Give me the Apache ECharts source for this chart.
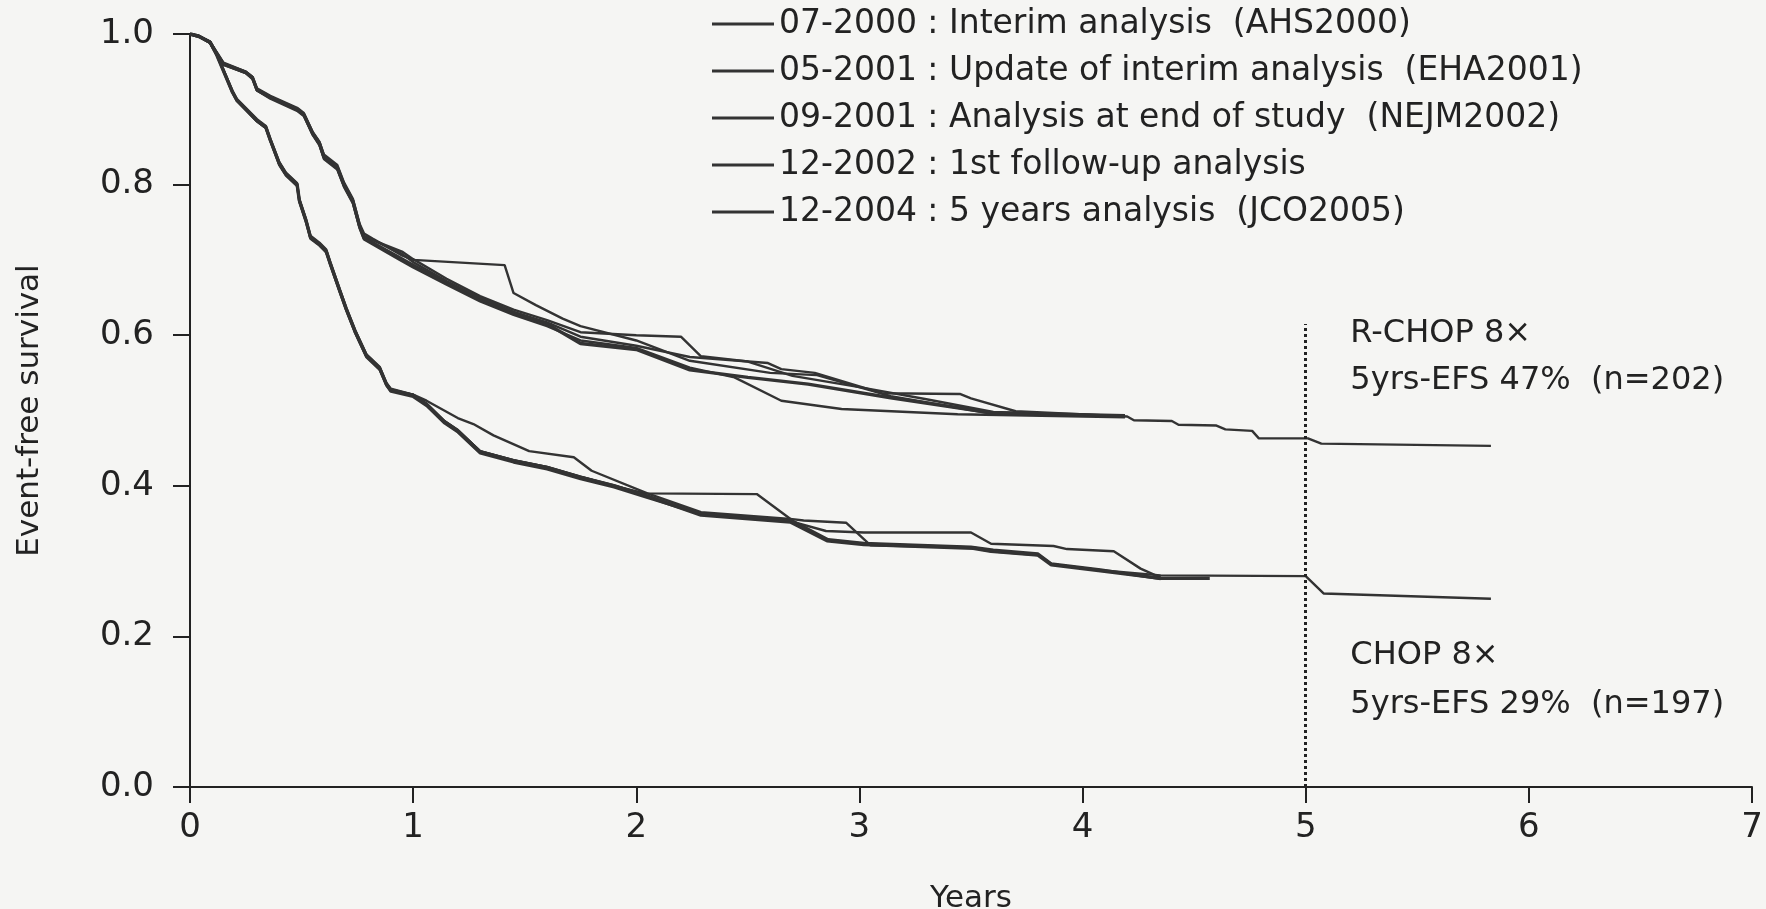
<!DOCTYPE html>
<html>
<head>
<meta charset="utf-8">
<title>Event-free survival</title>
<script src="https://cdn.jsdelivr.net/npm/echarts@6/dist/echarts.min.js"></script>
<style>
  html, body { margin: 0; padding: 0; background: #f5f5f3; }
  #main { width: 1766px; height: 909px; }
</style>
</head>
<body>
<div id="main"></div>
<script>
// legend names (one per analysis)
const analyses = [
  '07-2000 : Interim analysis  (AHS2000)',
  '05-2001 : Update of interim analysis  (EHA2001)',
  '09-2001 : Analysis at end of study  (NEJM2002)',
  '12-2002 : 1st follow-up analysis',
  '12-2004 : 5 years analysis  (JCO2005)'
];

const xTicks = [0, 1, 2, 3, 4, 5, 6, 7];
const yTicks = [0, 0.2, 0.4, 0.6, 0.8, 1.0];

// R-CHOP arm, [years, event-free survival]
const rchop0700 = [[0,1.0],[0.04,0.997],[0.09,0.989],[0.12,0.976],[0.15,0.962],[0.25,0.95],[0.28,0.943],[0.30,0.928],[0.36,0.918],[0.48,0.902],[0.51,0.895],[0.55,0.87],[0.58,0.857],[0.60,0.84],[0.66,0.826],[0.69,0.803],[0.73,0.781],[0.76,0.748],[0.78,0.735],[0.82,0.728],[0.95,0.706],[1.0,0.70],[1.41,0.693],[1.45,0.656],[1.55,0.64],[1.67,0.622],[1.75,0.612],[2.0,0.593],[2.24,0.566],[2.6,0.55],[2.81,0.547],[3.14,0.519],[3.59,0.496],[4.19,0.493]];
const rchop0501 = [[0,1.0],[0.04,0.996],[0.09,0.988],[0.12,0.973],[0.15,0.959],[0.25,0.948],[0.28,0.941],[0.30,0.925],[0.36,0.915],[0.48,0.899],[0.51,0.892],[0.55,0.866],[0.58,0.853],[0.60,0.835],[0.66,0.821],[0.69,0.798],[0.73,0.776],[0.76,0.743],[0.78,0.731],[0.95,0.711],[1.0,0.701],[1.15,0.675],[1.3,0.652],[1.45,0.634],[1.6,0.62],[1.75,0.604],[2.0,0.60],[2.2,0.598],[2.29,0.572],[2.5,0.565],[2.7,0.546],[3.0,0.531],[3.3,0.515],[3.6,0.498],[4.19,0.492]];
const rchop0901 = [[0,1.0],[0.04,0.997],[0.09,0.988],[0.12,0.974],[0.15,0.96],[0.25,0.948],[0.28,0.94],[0.30,0.925],[0.36,0.914],[0.48,0.898],[0.51,0.891],[0.55,0.866],[0.58,0.852],[0.60,0.834],[0.66,0.82],[0.69,0.797],[0.73,0.775],[0.76,0.742],[0.78,0.727],[0.94,0.70],[1.0,0.69],[1.15,0.667],[1.3,0.645],[1.45,0.627],[1.6,0.612],[1.75,0.593],[2.0,0.583],[2.24,0.557],[2.44,0.544],[2.65,0.513],[2.92,0.502],[3.44,0.495],[4.19,0.491]];
const rchop1202 = [[0,1.0],[0.04,0.997],[0.09,0.989],[0.12,0.974],[0.15,0.96],[0.25,0.949],[0.28,0.942],[0.30,0.926],[0.36,0.916],[0.48,0.90],[0.51,0.893],[0.55,0.868],[0.58,0.855],[0.60,0.837],[0.66,0.823],[0.69,0.80],[0.73,0.778],[0.76,0.745],[0.78,0.729],[0.94,0.703],[1.0,0.693],[1.15,0.67],[1.3,0.648],[1.45,0.63],[1.6,0.615],[1.75,0.589],[2.0,0.581],[2.24,0.554],[2.5,0.544],[2.77,0.535],[3.14,0.517],[3.59,0.497],[4.19,0.493]];
const rchop1204 = [[0,1.0],[0.04,0.997],[0.09,0.99],[0.12,0.975],[0.15,0.961],[0.25,0.95],[0.28,0.943],[0.30,0.927],[0.36,0.917],[0.48,0.901],[0.51,0.894],[0.55,0.869],[0.58,0.856],[0.60,0.838],[0.66,0.824],[0.69,0.801],[0.73,0.779],[0.76,0.746],[0.78,0.732],[0.95,0.708],[1.0,0.697],[1.15,0.672],[1.3,0.65],[1.45,0.631],[1.6,0.617],[1.75,0.598],[2.0,0.586],[2.24,0.571],[2.59,0.563],[2.65,0.555],[2.8,0.55],[3.1,0.523],[3.45,0.522],[3.5,0.516],[3.7,0.499],[4.2,0.492],[4.23,0.487],[4.4,0.486],[4.43,0.481],[4.6,0.48],[4.64,0.475],[4.76,0.473],[4.79,0.463],[5.01,0.463],[5.07,0.456],[5.83,0.453]];

// CHOP arm
const chop0700 = [[0,1.0],[0.04,0.997],[0.09,0.989],[0.12,0.973],[0.19,0.925],[0.21,0.914],[0.30,0.887],[0.34,0.878],[0.36,0.861],[0.40,0.83],[0.43,0.816],[0.48,0.802],[0.49,0.781],[0.52,0.754],[0.54,0.732],[0.58,0.723],[0.61,0.714],[0.63,0.696],[0.67,0.662],[0.70,0.637],[0.74,0.607],[0.79,0.575],[0.85,0.558],[0.88,0.537],[0.90,0.529],[1.0,0.521],[1.06,0.509],[1.14,0.486],[1.2,0.474],[1.3,0.446],[1.45,0.434],[1.6,0.425],[1.75,0.412],[1.9,0.40],[2.04,0.39],[2.54,0.389],[2.70,0.354],[2.86,0.329],[3.02,0.324],[3.5,0.319],[3.6,0.315],[3.8,0.31],[3.86,0.297],[4.08,0.289],[4.35,0.277]];
const chop0501 = [[0,1.0],[0.04,0.997],[0.09,0.988],[0.12,0.972],[0.19,0.923],[0.21,0.912],[0.30,0.884],[0.34,0.875],[0.36,0.858],[0.40,0.827],[0.43,0.813],[0.48,0.799],[0.49,0.778],[0.52,0.751],[0.54,0.729],[0.58,0.72],[0.61,0.711],[0.63,0.693],[0.67,0.659],[0.70,0.634],[0.74,0.604],[0.79,0.572],[0.85,0.555],[0.88,0.534],[0.90,0.526],[1.0,0.521],[1.06,0.513],[1.2,0.49],[1.27,0.482],[1.36,0.467],[1.52,0.446],[1.72,0.438],[1.8,0.42],[2.05,0.39],[2.29,0.365],[2.69,0.356],[2.75,0.354],[2.94,0.351],[3.05,0.321],[3.5,0.318],[3.59,0.313],[3.8,0.308],[3.86,0.296],[4.08,0.288],[4.35,0.276]];
const chop0901 = [[0,1.0],[0.04,0.997],[0.09,0.989],[0.12,0.972],[0.19,0.922],[0.21,0.911],[0.30,0.884],[0.34,0.875],[0.36,0.858],[0.40,0.826],[0.43,0.812],[0.48,0.798],[0.49,0.777],[0.52,0.75],[0.54,0.728],[0.58,0.719],[0.61,0.71],[0.63,0.692],[0.67,0.658],[0.70,0.633],[0.74,0.603],[0.79,0.571],[0.85,0.554],[0.88,0.533],[0.90,0.525],[1.0,0.518],[1.06,0.506],[1.14,0.483],[1.2,0.471],[1.3,0.443],[1.45,0.431],[1.6,0.422],[1.75,0.409],[1.9,0.398],[2.05,0.384],[2.29,0.362],[2.69,0.353],[2.85,0.34],[3.02,0.338],[3.5,0.338],[3.59,0.323],[3.87,0.32],[3.93,0.316],[4.14,0.313],[4.26,0.29],[4.35,0.278]];
const chop1202 = [[0,1.0],[0.04,0.997],[0.09,0.989],[0.12,0.972],[0.19,0.923],[0.21,0.912],[0.30,0.885],[0.34,0.876],[0.36,0.859],[0.40,0.828],[0.43,0.814],[0.48,0.80],[0.49,0.779],[0.52,0.752],[0.54,0.73],[0.58,0.721],[0.61,0.712],[0.63,0.694],[0.67,0.66],[0.70,0.635],[0.74,0.605],[0.79,0.573],[0.85,0.556],[0.88,0.535],[0.90,0.527],[1.0,0.52],[1.06,0.508],[1.14,0.485],[1.2,0.473],[1.3,0.445],[1.45,0.433],[1.6,0.424],[1.75,0.411],[1.9,0.40],[2.05,0.386],[2.29,0.361],[2.69,0.352],[2.855,0.327],[3.02,0.322],[3.51,0.317],[3.59,0.313],[3.80,0.308],[3.86,0.295],[4.08,0.287],[4.35,0.277],[4.57,0.277]];
const chop1204 = [[0,1.0],[0.04,0.997],[0.09,0.99],[0.12,0.974],[0.19,0.924],[0.21,0.913],[0.30,0.886],[0.34,0.877],[0.36,0.86],[0.40,0.829],[0.43,0.815],[0.48,0.801],[0.49,0.78],[0.52,0.753],[0.54,0.731],[0.58,0.722],[0.61,0.713],[0.63,0.695],[0.67,0.661],[0.70,0.636],[0.74,0.606],[0.79,0.574],[0.85,0.557],[0.88,0.536],[0.90,0.528],[1.0,0.521],[1.06,0.509],[1.14,0.486],[1.2,0.474],[1.3,0.446],[1.45,0.434],[1.6,0.425],[1.75,0.412],[1.9,0.401],[2.05,0.387],[2.29,0.363],[2.69,0.354],[2.86,0.328],[3.02,0.323],[3.51,0.318],[3.59,0.314],[3.80,0.309],[3.86,0.296],[4.08,0.288],[4.35,0.281],[5.0,0.28],[5.08,0.257],[5.83,0.25]];

const rchopSeries = [rchop0700, rchop0501, rchop0901, rchop1202, rchop1204];
const chopSeries = [chop0700, chop0501, chop0901, chop1202, chop1204];
const lineWidths = [2.4, 2.4, 2.4, 3.4, 2.4];

const fontFamily = 'DejaVu Sans';
const ink = '#333333';

function initChart(dom) {
  const chart = echarts.init(dom, null, { width: 1766, height: 909 });

  var series = [];
  analyses.forEach(function (name, i) {
    [rchopSeries[i], chopSeries[i]].forEach(function (d) {
      series.push({
        name: name,
        type: 'line',
        data: d,
        symbol: 'none',
        silent: true,
        lineStyle: { color: ink, width: lineWidths[i] },
        itemStyle: { color: ink }
      });
    });
  });

  // dotted line at 5 years
  series[series.length - 2].markLine = {
    silent: true,
    symbol: 'none',
    label: { show: false },
    lineStyle: { type: 'dotted', color: '#222', width: 3 },
    data: [[{ coord: [5, 0] }, { coord: [5, 0.615] }]]
  };

  var option = {
    backgroundColor: '#f5f5f3',
    animation: false,
    textStyle: { fontFamily: fontFamily, color: '#222' },
    grid: {
      left: 190, right: 14, top: 34, bottom: 122,
      containLabel: false,
      outerBoundsMode: 'none'
    },
    legend: {
      orient: 'vertical',
      left: 707,
      top: 1,
      itemWidth: 62,
      itemHeight: 3,
      itemGap: 11,
      icon: 'rect',
      data: analyses,
      textStyle: { fontSize: 33, lineHeight: 36, color: '#222', fontFamily: fontFamily }
    },
    xAxis: {
      type: 'value',
      min: 0,
      max: 7,
      interval: 1,
      name: 'Years',
      nameLocation: 'middle',
      nameGap: 96,
      nameTextStyle: { fontSize: 31, color: '#222' },
      axisLine: { onZero: false, lineStyle: { color: '#222', width: 2 } },
      axisTick: { length: 16, lineStyle: { color: '#222', width: 2 } },
      axisLabel: { fontSize: 34, margin: 24, color: '#222' },
      splitLine: { show: false }
    },
    yAxis: {
      type: 'value',
      min: 0,
      max: 1,
      interval: 0.2,
      name: 'Event-free survival',
      nameLocation: 'middle',
      nameRotate: 90,
      nameGap: 145,
      nameTextStyle: { fontSize: 31, color: '#222' },
      axisLine: { show: true, lineStyle: { color: '#222', width: 2 } },
      axisTick: { show: true, length: 17, lineStyle: { color: '#222', width: 2 } },
      axisLabel: {
        fontSize: 34,
        margin: 36,
        color: '#222',
        formatter: function (v) { return v.toFixed(1); }
      },
      splitLine: { show: false }
    },
    series: series
  };

  chart.setOption(option);

  // arm annotations, placed in data coordinates
  const notes = [
    { at: [5.2, 0.602], text: 'R-CHOP 8×' },
    { at: [5.2, 0.539], text: '5yrs-EFS 47%  (n=202)' },
    { at: [5.2, 0.175], text: 'CHOP 8×' },
    { at: [5.2, 0.109], text: '5yrs-EFS 29%  (n=197)' }
  ];
  chart.setOption({
    graphic: notes.map(function (n) {
      const p = chart.convertToPixel({ gridIndex: 0 }, n.at);
      return {
        type: 'text',
        x: p[0],
        y: p[1],
        silent: true,
        style: {
          text: n.text,
          font: '32px "DejaVu Sans"',
          fill: '#222',
          verticalAlign: 'middle',
          align: 'left'
        }
      };
    })
  });
  return chart;
}

initChart(document.getElementById('main'));
</script>
</body>
</html>
